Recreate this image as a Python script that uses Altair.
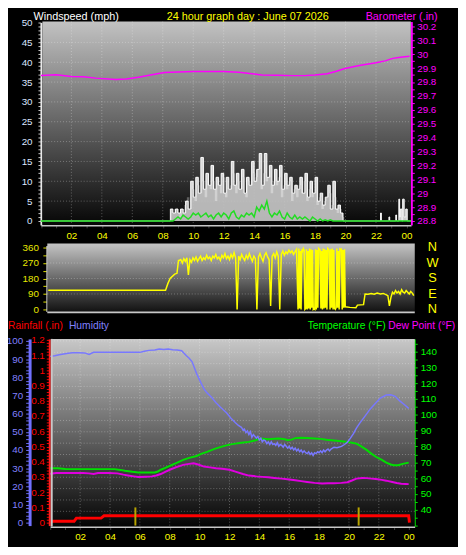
import altair as alt
import pandas as pd

FONT = "Liberation Sans"

# ---------------- data ----------------
HOURS = list(range(0, 25))
GRID_HOURS = [2, 4, 6, 8, 10, 12, 14, 16, 18, 20, 22]

# wind (mph): 10-minute samples of the active period
gust_start = 8.5
gust_vals = [3, 2, 3, 2, 3, 2, 5, 3, 10, 6, 11, 7, 16, 8, 12, 9, 14, 8, 11, 9,
             12, 7, 11, 8, 15, 9, 12, 8, 13, 7, 11, 9, 15, 10, 13, 17, 9, 17, 11, 14,
             9, 13, 10, 14, 8, 12, 9, 11, 7, 9, 8, 11, 7, 12, 6, 10, 7, 11, 5, 7,
             4, 6, 9, 3, 10, 3, 4, 2, 0]
speed_start = 8.5 + 1 / 12
speed_vals = [2, 3, 2, 1, 3, 4, 6, 3, 8, 5, 9, 7, 10, 6, 9, 8, 10, 5, 9, 7,
              11, 6, 8, 9, 12, 7, 10, 8, 11, 6, 10, 9, 12, 11, 13, 8, 12, 10, 11, 7,
              10, 9, 11, 6, 9, 8, 10, 5, 8, 6, 9, 7, 10, 5, 8, 6, 7, 4, 6, 3,
              5, 6, 7, 4, 6, 2, 3, 1, 0]
avg_start = 8.5
avg_vals = [0, 0, 0.5, 1, 0.5, 1.5, 1, 0.5, 1, 2, 1.5, 2, 1, 1.5, 2, 1, 1.5, 0.5, 1.5, 2,
            1, 2, 1.5, 0.5, 2, 2.5, 1, 0.5, 1.5, 1, 2, 1.5, 2, 1, 3.5, 2.5, 4, 3, 5, 2,
            1, 2, 1.5, 2.5, 1, 0.5, 2, 1, 0.5, 1.5, 0.5, 1, 0.5, 1, 0.5, 0, 1, 0.5, 0, 0.5,
            0, 0.3, 0, 0.3, 0, 0]
late_gust_t = [21.9, 22.25, 22.3, 22.35, 22.8, 22.85, 22.9, 23.25, 23.3, 23.35,
               23.5, 23.55, 23.6, 23.7, 23.75, 23.85, 23.95, 24.05, 24.3]
late_gust_v = [0, 0, 2, 0, 0, 1, 0, 0, 1.5, 0,
               5.5, 1, 3, 0, 5.5, 1, 3, 0, 0]

# barometer (in)
baro_t = [0, 1.0, 2.0, 2.8, 3.6, 4.9, 5.6, 6.4, 7.2, 8.1, 9.0, 10.0, 11.0, 12.0, 13.0, 14.0,
          14.5, 15.5, 16.5, 17.3, 18.0, 18.8, 19.4, 19.9, 20.5, 21.0, 21.5, 22.0, 22.6, 23.1,
          23.6, 24.2]
baro_v = [29.847, 29.852, 29.840, 29.838, 29.828, 29.818, 29.822, 29.835, 29.850, 29.868,
          29.872, 29.875, 29.876, 29.876, 29.870, 29.858, 29.850, 29.848, 29.846, 29.846,
          29.850, 29.860, 29.878, 29.896, 29.910, 29.920, 29.930, 29.939, 29.952, 29.970,
          29.978, 29.986]

# wind direction (degrees)
dir_head_t = [0, 7.7, 7.85, 8.0, 8.3, 8.45, 8.55]
dir_head_v = [112, 112, 150, 180, 205, 210, 285]
dir_mid_start = 8.6
dir_mid_v = [285, 290, 270, 295, 280, 300, 200, 290, 275, 300,
             285, 305, 280, 295, 310, 285, 300, 290, 315, 295,
             305, 285, 310, 300, 320, 295, 305, 285, 315, 300,
             325, 295, 310, 290, 320, 300, 330, 300, 0, 310,
             290, 320, 300, 285, 315, 295, 325, 300, 280, 310,
             295, 0, 305, 325, 300, 280, 315, 330, 305, 290,
             20, 310, 325, 300, 335, 310, 0, 320, 340, 315,
             335, 325, 345, 330, 340, 320, 335, 350]
dir_osc_start = 16.4
dir_osc_v = [0, 355, 5, 340, 0, 350, 340, 355, 345, 0, 5, 350, 0, 340, 5, 355,
             0, 350, 10, 345, 0, 5, 0, 350, 0, 345, 10, 355, 350, 345, 5, 340,
             0, 355, 5, 350, 10, 345, 0, 355, 350, 340, 0, 350, 10, 355, 0, 345,
             5, 0, 10, 355, 10, 340, 0, 350, 345, 355, 0, 345, 10, 350]
dir_tail_t = [19.5, 19.8, 20.2, 20.3, 20.7, 20.8, 21.0, 21.2, 21.4, 21.6, 21.8, 22.0,
              22.2, 22.3, 22.4, 22.5, 22.6, 22.7, 22.8, 22.9, 23.0, 23.1, 23.2, 23.3,
              23.4, 23.5, 23.6, 23.7, 23.8, 23.9, 24.0]
dir_tail_v = [15, 12, 10, 25, 28, 90, 88, 92, 88, 95, 90, 93, 85, 80, 20, 70, 100, 90,
              110, 95, 105, 90, 115, 100, 95, 110, 100, 90, 105, 95, 80]
COMPASS = ["N", "W", "S", "E", "N"]
COMPASS_DEG = [360, 270, 180, 90, 0]

# humidity (%)
hum_head_t = [0, 0.3, 0.6, 0.9, 1.2, 1.5, 1.9, 2.3, 2.6, 2.9, 3.5, 4.0, 4.5, 5.0, 5.5,
              6.0, 6.3, 6.6, 7.0, 7.3, 7.6, 7.9, 8.2, 8.5, 8.8, 9.1, 9.3, 9.5, 9.8,
              10.1, 10.3, 10.5, 10.8, 11.1, 11.4, 11.8, 12.1, 12.4, 12.6]
hum_head_v = [91.5, 91.8, 92.4, 92.8, 93.2, 93.5, 93.5, 93.4, 92.6, 93.7, 93.7, 93.7,
              93.7, 93.7, 93.7, 93.7, 94.3, 94.8, 95.0, 95.5, 95.3, 95.6, 95.1, 95.0,
              94.6, 92.0, 90.5, 88.5, 82.0, 76.8, 73.5, 71.4, 69.0, 66.0, 63.5, 60.5,
              57.5, 55.0, 53.5]
hum_mid_start = 12.8
hum_mid_v = [52.5, 51, 51.5, 49.5, 50.5, 48.5, 50, 47, 48.5, 47.5,
             46.5, 47.5, 45.5, 46.5, 44.5, 45.5, 45, 43.5, 44.5, 43,
             44.5, 43, 43.5, 42.5, 44, 42, 43, 42.5, 41.5, 43,
             42, 41, 42, 40.5, 41.5, 40, 41, 39.5, 40.5, 39,
             40, 38.5, 39.5, 38.5, 38, 39, 37.5, 38.5, 37, 38.5,
             38, 39, 38.5, 39.5, 38.5, 40, 39, 40, 40.5, 39.5,
             40.5, 41, 41.5]
hum_tail_t = [19.2, 19.5, 19.7, 19.9, 20.1, 20.3, 20.5, 20.7, 21.0, 21.2, 21.4, 21.7,
              22.1, 22.5, 22.8, 23.1, 23.4, 23.7, 24.0]
hum_tail_v = [41.2, 42, 43, 44.3, 46.5, 49, 52, 54.5, 57.8, 60, 62.3, 65, 68.6, 70.2,
              70.4, 69.5, 67, 65, 62.9]

# temperature (F)
temp_t = [0, 0.5, 1, 2.1, 3, 4.3, 4.7, 5.0, 5.5, 5.9, 6.5, 7.0, 7.2, 7.4, 7.7, 8.0, 8.5,
          8.9, 9.3, 9.8, 10.1, 10.5, 11.0, 11.6, 12.0, 12.4, 12.8, 13.3, 13.7, 14.0, 14.2,
          14.6, 15.0, 15.3, 15.7, 15.9, 16.2, 16.4, 16.8, 17.2, 17.7, 18.1, 18.5, 19.0,
          19.5, 19.9, 20.2, 20.5, 20.8, 21.2, 21.5, 21.8, 22.2, 22.5, 22.8, 23.0, 23.3,
          23.6, 24.0]
temp_v = [66.3, 66.2, 65.8, 65.7, 65.7, 65.7, 65.2, 64.7, 64.0, 63.6, 63.6, 63.6, 64.2,
          65.3, 66.5, 67.8, 69.8, 71.5, 72.8, 74.0, 75.3, 76.6, 78.5, 80.2, 81.2, 81.8,
          82.4, 82.9, 83.8, 84.8, 84.9, 84.6, 84.9, 85.0, 84.6, 84.0, 84.5, 85.3, 85.5,
          85.3, 85.0, 84.8, 84.3, 83.8, 83.3, 82.9, 82.4, 81.8, 80.2, 77.7, 75.5, 73.5,
          71.5, 69.8, 68.6, 68.1, 68.2, 69.0, 69.8]

# dew point (F)
dew_t = [0, 0.4, 0.8, 1.5, 2.2, 2.6, 2.9, 3.2, 3.9, 4.5, 4.9, 5.2, 5.6, 5.9, 6.4, 6.8,
         7.1, 7.4, 7.7, 8.0, 8.4, 8.9, 9.3, 9.6, 9.9, 10.3, 10.7, 11.1, 11.5, 12.0, 12.4,
         12.9, 13.3, 13.8, 14.2, 14.6, 15.0, 15.5, 16.0, 16.4, 16.8, 17.2, 17.7, 18.2,
         18.6, 19.0, 19.5, 19.9, 20.2, 20.5, 20.9, 21.2, 21.5, 21.8, 22.2, 22.5, 22.9,
         23.2, 23.5, 23.8, 24.0]
dew_v = [62.8, 63.2, 63.2, 63.2, 63.2, 63.0, 62.6, 63.2, 63.2, 63.0, 62.2, 61.7, 61.1,
         60.7, 60.9, 61.1, 61.7, 62.6, 64.0, 65.3, 66.8, 68.4, 69.0, 69.4, 68.6, 67.3,
         66.8, 66.3, 65.9, 65.3, 64.1, 62.6, 61.6, 61.1, 60.8, 60.5, 60.1, 59.7, 59.1,
         58.6, 58.1, 57.6, 57.0, 56.6, 56.7, 56.8, 57.0, 57.4, 58.5, 59.7, 60.1, 60.0,
         59.7, 59.4, 58.9, 58.4, 57.6, 56.9, 56.5, 56.3, 56.2]

# rainfall (in)
rain_t = [0, 1.6, 1.75, 3.4, 3.6, 24.0, 24.05]
rain_v = [0.01, 0.01, 0.03, 0.03, 0.045, 0.045, 0.0]

# sunrise / sunset markers (hours)
sun_t = [5.7, 20.65]

# ---------------- assemble series ----------------
def seq(start, vals, step):
    return [start + i * step for i in range(len(vals))]

gust_df = pd.DataFrame({
    "t": [0, 8.4] + seq(gust_start, gust_vals, 1 / 6) + late_gust_t,
    "v": [0, 0] + gust_vals + late_gust_v})
speed_df = pd.DataFrame({
    "t": [0, 8.45] + seq(speed_start, speed_vals, 1 / 6) + [24.3],
    "v": [0, 0] + speed_vals + [0]})
avg_df = pd.DataFrame({
    "t": [0, 8.4] + seq(avg_start, avg_vals, 1 / 6) + [24.3],
    "v": [0, 0] + avg_vals + [0]})
baro_df = pd.DataFrame({"t": baro_t, "v": baro_v})
dir_df = pd.DataFrame({
    "t": dir_head_t + seq(dir_mid_start, dir_mid_v, 0.1) + seq(dir_osc_start, dir_osc_v, 0.05) + dir_tail_t,
    "v": dir_head_v + dir_mid_v + dir_osc_v + dir_tail_v})
hum_df = pd.DataFrame({
    "t": hum_head_t + seq(hum_mid_start, hum_mid_v, 0.1) + hum_tail_t,
    "v": hum_head_v + hum_mid_v + hum_tail_v})
temp_df = pd.DataFrame({"t": temp_t, "v": temp_v})
dew_df = pd.DataFrame({"t": dew_t, "v": dew_v})
rain_df = pd.DataFrame({"t": rain_t, "v": rain_v})
sun_df = pd.DataFrame({"t": sun_t})
one = pd.DataFrame({"a": [0]})

# ---------------- scales (pixel ranges inside the one canvas) ----------------
W, H = 458, 539

def S(domain, rng):
    return alt.Scale(domain=domain, range=rng, nice=False, zero=False)

top_x = S([0, 24.3], [33.5, 410.2])
wind_y = S([-1, 50], [216, 10])
baro_y = S([28.772, 30.235], [216, 9])
mid_x = S([0, 24], [41, 413])
dir_y = S([-12, 372], [304.1, 236.9])
bot_x = S([0, 24.4], [43, 413.9])
hum_y = S([-1.6, 101.1], [522, 332])
rain_y = S([-0.019, 1.206], [522, 332])
temp_y = S([30, 148], [522, 332])

HOUR_LABEL = ("datum.value % 2 == 0 && datum.value > 0 ? (datum.value == 24 ? '00' : "
              "(datum.value < 10 ? '0' + datum.value : '' + datum.value)) : ''")


def ax(orient, offset, values, label_expr, dom, tick, lab, tsize=3, pad=3, dw=2, fs=10):
    return alt.Axis(orient=orient, offset=offset, values=values, labelExpr=label_expr,
                    domainColor=dom, domainWidth=dw, tickColor=tick, tickSize=tsize,
                    labelColor=lab, labelFont=FONT, labelFontSize=fs, labelPadding=pad,
                    grid=False, title=None, labelOverlap=False, labelFlush=False,
                    labelBound=False)


def gradient(top, bottom):
    return alt.LinearGradient(gradient="linear",
                              stops=[alt.GradientStop(color=top, offset=0),
                                     alt.GradientStop(color=bottom, offset=1)],
                              x1=0, x2=0, y1=0, y2=1)


def bg(x1, x2, y1, y2, top, bottom):
    return alt.Chart(one).mark_rect(fill=gradient(top, bottom)).encode(
        x=alt.value(x1), x2=alt.value(x2), y=alt.value(y1), y2=alt.value(y2))


def vgrid(xscale, y1, y2):
    return alt.Chart(pd.DataFrame({"h": GRID_HOURS})).mark_rule(
        color="white", opacity=0.3, strokeDash=[1, 2]).encode(
        x=alt.X("h:Q", scale=xscale, axis=None), y=alt.value(y1), y2=alt.value(y2))


def hgrid(levels, yscale, x1, x2):
    return alt.Chart(pd.DataFrame({"g": levels})).mark_rule(
        color="white", opacity=0.3, strokeDash=[1, 2]).encode(
        y=alt.Y("g:Q", scale=yscale, axis=None), x=alt.value(x1), x2=alt.value(x2))


def frame_rule(x1, x2, y1, y2, color="#c8c8c8", w=2):
    return alt.Chart(one).mark_rule(color=color, strokeWidth=w).encode(
        x=alt.value(x1), x2=alt.value(x2), y=alt.value(y1), y2=alt.value(y2))


def title(text, x, y, color, align="left", size=11):
    return alt.Chart(one).mark_text(text=text, align=align, baseline="middle",
                                    font=FONT, fontSize=size, color=color).encode(
        x=alt.value(x), y=alt.value(y))


def line(df, xscale, yscale, color, width, xaxis=None, yaxis=None, interp="linear"):
    return alt.Chart(df).mark_line(color=color, strokeWidth=width, interpolate=interp).encode(
        x=alt.X("t:Q", scale=xscale, axis=xaxis),
        y=alt.Y("v:Q", scale=yscale, axis=yaxis))


def area(df, xscale, yscale, color, opacity, interp="step-after"):
    return alt.Chart(df).mark_area(color=color, opacity=opacity, interpolate=interp).encode(
        x=alt.X("t:Q", scale=xscale, axis=None),
        y=alt.Y("v:Q", scale=yscale, axis=None),
        y2=alt.datum(0))


layers = []

# ---------- top panel: wind speed & barometer ----------
layers.append(bg(35, 410, 9, 216, "#c2c2c2", "#060606"))
layers.append(vgrid(top_x, 9, 216))
layers.append(hgrid([5, 10, 15, 20, 25, 30, 35, 40, 45], wind_y, 35, 410))

wind_axis = ax("left", -33.5, list(range(0, 51)),
               "datum.value % 5 == 0 ? datum.label : ''",
               "#e8e8e8", "#c8c8c8", "#dce6ff", tsize=3, pad=6)
top_x_axis = ax("bottom", -323, HOURS, HOUR_LABEL, "#c8c8c8", "#404040", "#ffff00",
                tsize=3, pad=2.5)
layers.append(area(gust_df, top_x, wind_y, "#f0f0f0", 0.85))
layers.append(area(speed_df, top_x, wind_y, "#a0a0a0", 0.5))
layers.append(line(gust_df, top_x, wind_y, "#ffffff", 1, xaxis=top_x_axis,
                   yaxis=wind_axis, interp="step-after"))
layers.append(line(avg_df, top_x, wind_y, "#22dd22", 1.5))

baro_ticks = [round(28.8 + 0.05 * i, 2) for i in range(29)]
baro_axis = ax("right", -47.5, baro_ticks,
               "abs(datum.value * 10 - round(datum.value * 10)) < 0.001 ? format(datum.value, '.1~f') : ''",
               "#ff00ff", "#ff00ff", "#ff00ff", tsize=3, pad=2.5)
layers.append(line(baro_df, top_x, baro_y, "#ff00ff", 1.5, yaxis=baro_axis))

# ---------- middle panel: wind direction ----------
layers.append(bg(40, 414, 235, 305, "#c4c4c4", "#101010"))
layers.append(hgrid([90, 180, 270], dir_y, 40, 414))
dir_axis = ax("left", -39.5, [0, 45, 90, 135, 180, 225, 270, 315, 360],
              "datum.value % 90 == 0 ? datum.label : ''",
              "#c8c8c8", "#e0e000", "#e8e800", tsize=4, pad=4.5)
layers.append(line(dir_df, mid_x, dir_y, "#ffff00", 1.5, yaxis=dir_axis))
layers.append(frame_rule(40, 414, 305, 305))
layers.append(alt.Chart(pd.DataFrame({"c": COMPASS, "d": COMPASS_DEG})).mark_text(
    font=FONT, fontSize=13, color="#ffff00", align="center", baseline="middle").encode(
    y=alt.Y("d:Q", scale=dir_y, axis=None), x=alt.value(432), text="c:N"))

# ---------- bottom panel: humidity, rain, temperature, dew point ----------
layers.append(bg(44, 414, 332, 523, "#c8c8c8", "#040404"))
layers.append(vgrid(bot_x, 332, 523))
layers.append(hgrid([6.25 * i for i in range(1, 17)], hum_y, 44, 414))

rain_ticks = [round(0.02 * i, 2) for i in range(61)]
rain_axis = ax("left", -42, rain_ticks,
               "abs(datum.value * 10 - round(datum.value * 10)) < 0.001 ? format(datum.value, '.1~f') : ''",
               "#ff2020", "#ff0000", "#ff0000", tsize=3, pad=2)
layers.append(line(rain_df, bot_x, rain_y, "#ff0000", 3, yaxis=rain_axis))

layers.append(alt.Chart(sun_df).mark_rule(color="#b8a400", strokeWidth=2).encode(
    x=alt.X("t:Q", scale=bot_x, axis=None), y=alt.value(503.5), y2=alt.value(522)))

temp_axis = ax("right", -44.5, list(range(30, 150, 5)),
               "datum.value % 10 == 0 && datum.value >= 40 ? datum.label : ''",
               "#00dd00", "#00dd00", "#00ff00", tsize=3, pad=3)
layers.append(line(dew_df, bot_x, temp_y, "#e000e0", 2))
layers.append(line(temp_df, bot_x, temp_y, "#00e000", 2, yaxis=temp_axis))

hum_axis = ax("left", -22, list(range(0, 101, 2)),
              "datum.value % 10 == 0 ? datum.label : ''",
              "#7070ff", "#7070ff", "#8080ff", tsize=4, pad=3, dw=3)
bot_x_axis = ax("bottom", -16, HOURS, HOUR_LABEL, "#c8c8c8", "#404040", "#ffff00",
                tsize=3, pad=2.5)
layers.append(line(hum_df, bot_x, hum_y, "#7878ff", 1.5, xaxis=bot_x_axis, yaxis=hum_axis))
layers.append(frame_rule(44.5, 44.5, 332, 523))

# ---------- titles ----------
layers.append(title("Windspeed (mph)", 26, 4, "#ffffff"))
layers.append(title("24 hour graph day : June 07 2026", 244, 4, "#ffff00", align="center"))
layers.append(title("Barometer (.in)", 364, 4, "#ff00ff"))
layers.append(title("Rainfall (.in)", 0, 319, "#ff0000", size=10.5))
layers.append(title("Humidity", 62, 319, "#8080ff", size=10.5))
layers.append(title("Temperature (°F)", 305, 319, "#00ff00", size=10.5))
layers.append(title("Dew Point (°F)", 387, 319, "#ff00ff", size=10.5))

chart = alt.layer(*layers).resolve_scale(
    x="independent", y="independent"
).properties(
    width=W, height=H, background="black", padding=0,
    autosize=alt.AutoSizeParams(type="none")
).configure_view(stroke=None)

chart.save("out.html", embed_options={"renderer": "svg", "actions": False})
